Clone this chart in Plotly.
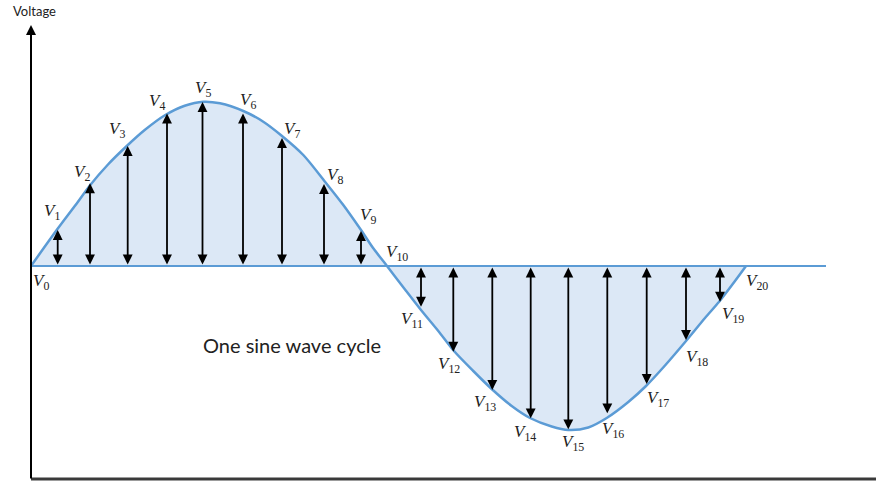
import plotly.graph_objects as go

# sample instants (arbitrary time units) and the voltage at each one
times = [0, 26.7, 59, 96.7, 136, 171.5, 212, 251, 293, 330, 357,
         390, 422.3, 461.3, 499.7, 537.3, 576.3, 615.7, 655, 689, 714]
volts = [0, 36, 82.7, 120, 152.5, 164, 152.5, 128, 82, 35, 0,
         -40.7, -85.7, -124, -152.3, -163.3, -147.3, -118, -74, -35.7, 0]
names = ["V%d" % i for i in range(len(times))]

# the drawn wave
curve_t = [0, 27, 47, 58.7, 77, 96.3, 113.7, 134.3, 153.7, 172.3, 189, 212.3,
           232.3, 250.7, 272.3, 294, 312.3, 330, 342.3, 356, 374, 390, 407.3,
           423, 442.3, 460.7, 480.7, 499, 520.7, 537.3, 557.3, 575.7, 597.3,
           615, 634, 655, 674, 688.3, 704, 715]
curve_v = [0, 37.7, 64.3, 80.3, 101.5, 120.5, 136, 151, 160.3, 164.3, 162.7, 155,
           144.3, 130.3, 111, 84.3, 61, 36, 17.7, 0, -23.5, -44, -65,
           -85, -105, -123, -140, -152, -160.5, -164, -161.5, -152, -136,
           -120, -99.5, -75, -52, -35.5, -15, 0]

# label offsets in pixels (dx right, dy down) from each sample point
label_off = [(10, 16), (-6, -18), (-8, -10), (-11, -16), (-10, -12), (0, -13),
             (5, -13), (10, -8), (11, -8), (7, -15), (9, -13),
             (-9, 13), (-4, 13), (-7, 13), (-6, 15), (5, 14), (6, 17),
             (11, 15), (11, 18), (13, 13), (12, 16)]

blue = "#5b9bd5"

fig = go.Figure()
fig.add_trace(go.Scatter(
    x=curve_t, y=curve_v, mode="lines",
    line=dict(color=blue, width=2.5, shape="spline", smoothing=0.8),
    fill="tozeroy", fillcolor="#dce8f6", hoverinfo="skip"))

# zero line
fig.add_shape(type="line", x0=0, x1=795, y0=0, y1=0,
              line=dict(color=blue, width=2), layer="above")
# time axis
fig.add_shape(type="line", x0=0, x1=850, y0=-213, y1=-213,
              line=dict(color="#3a3a3a", width=3))

annotations = []
# voltage axis with arrow
annotations.append(dict(x=0, y=241, ax=0, ay=-214, xref="x", yref="y",
                        axref="x", ayref="y", showarrow=True, arrowhead=2,
                        arrowsize=1, arrowwidth=2, arrowcolor="black", text=""))
annotations.append(dict(x=3, y=255, xref="x", yref="y", text="Voltage",
                        showarrow=False, font=dict(family="Lato", size=13, color="#222")))

for t, v, n, (dx, dy) in zip(times, volts, names, label_off):
    if v != 0:
        annotations.append(dict(x=t, y=v, ax=t, ay=0, xref="x", yref="y",
                                axref="x", ayref="y", text="", showarrow=True,
                                arrowhead=2, arrowside="end+start", arrowsize=1.1,
                                arrowwidth=1.8, arrowcolor="black"))
    annotations.append(dict(x=t, y=v, xref="x", yref="y", showarrow=False,
                            text="<i>V</i><sub>%s</sub>" % n[1:],
                            xshift=dx, yshift=-dy,
                            font=dict(family="Liberation Serif", size=17, color="#222")))

annotations.append(dict(x=261, y=-79, xref="x", yref="y", showarrow=False,
                        text="One sine wave cycle",
                        font=dict(family="Lato", size=20, color="#222")))

fig.update_layout(
    width=876, height=481,
    margin=dict(l=0, r=0, t=0, b=0),
    plot_bgcolor="white", paper_bgcolor="white",
    showlegend=False,
    annotations=annotations,
    xaxis=dict(range=[-31, 845], visible=False, fixedrange=True),
    yaxis=dict(range=[-215, 266], visible=False, fixedrange=True),
)

# drop the page's default body margin so the figure sits at the corner
fig.write_html("out.html", config={"displayModeBar": False},
               post_script="document.body.style.margin='0';")
